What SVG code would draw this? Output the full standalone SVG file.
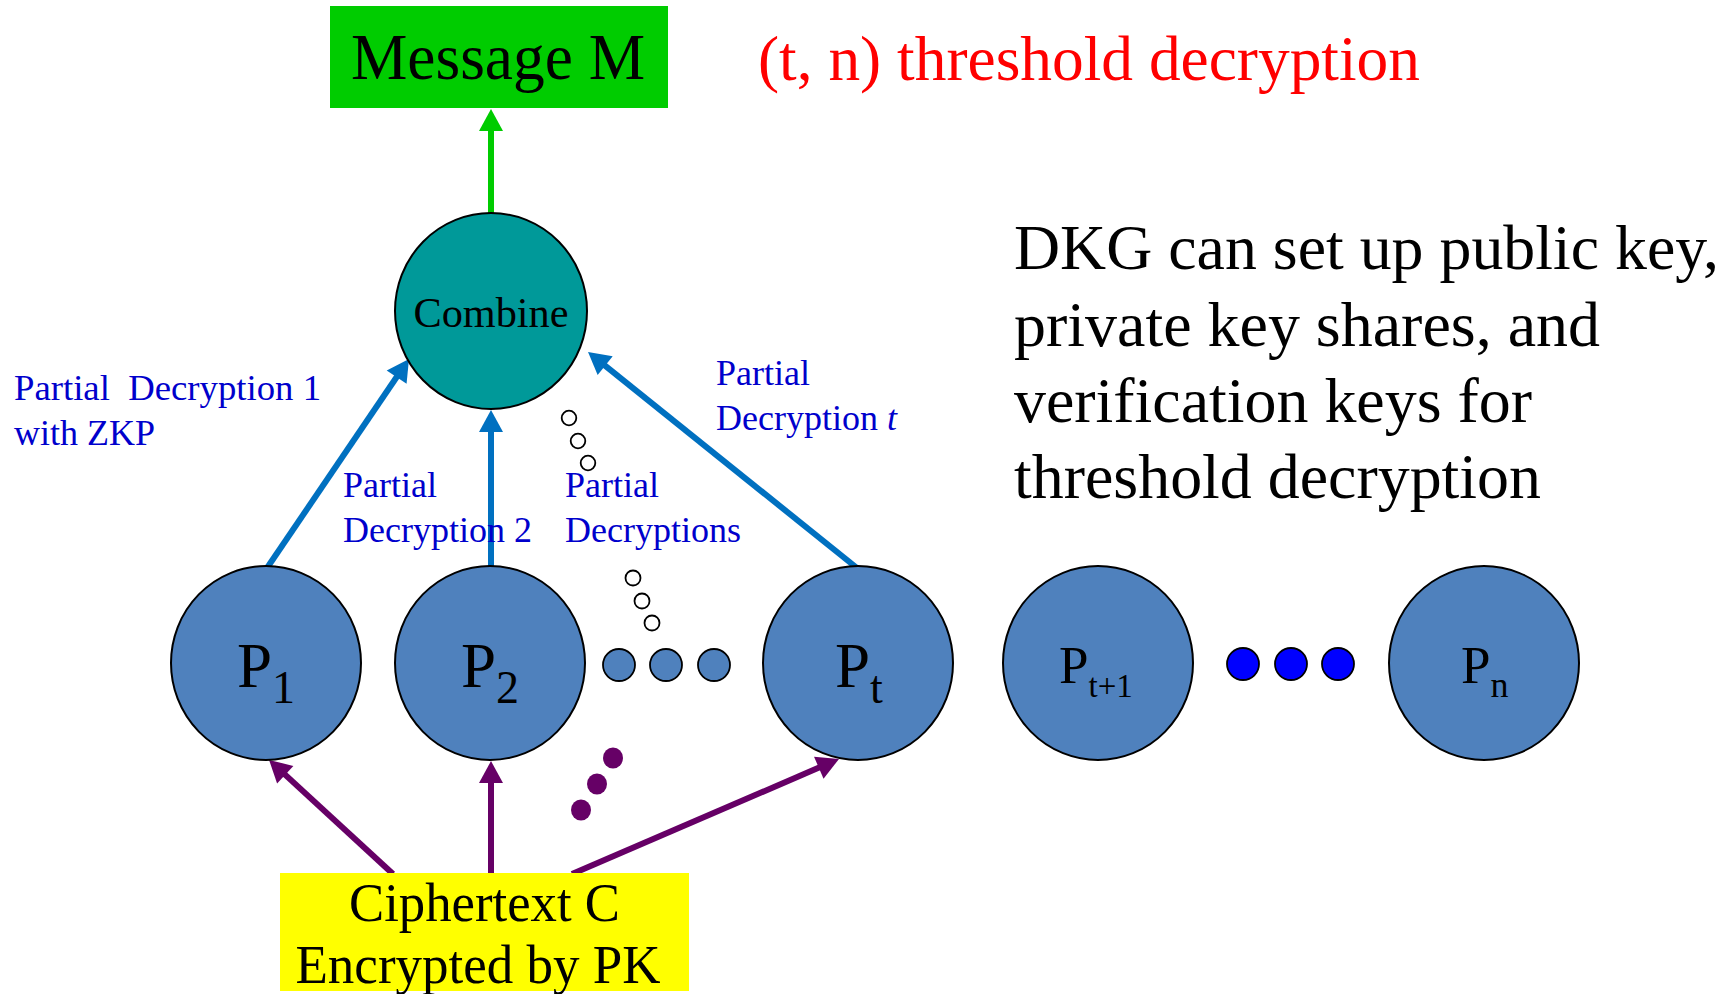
<svg xmlns="http://www.w3.org/2000/svg" width="1733" height="994" viewBox="0 0 1733 994">
<defs>
<style>
text{font-family:"Liberation Serif","Times New Roman",serif;}
.party{fill:#4F81BD;stroke:#000;stroke-width:2;}
.plabel{font-size:63px;fill:#000;}
.psmall{font-size:53px;fill:#000;}
.lbl{font-size:36px;fill:#0000CC;}
.blue{stroke:#0070C0;stroke-width:6;fill:none;}
.purple{stroke:#660066;stroke-width:6;fill:none;}
.green{stroke:#00CC00;stroke-width:6;fill:none;}
.bubble{fill:#fff;stroke:#000;stroke-width:1.8;}
.mini{fill:#4F81BD;stroke:#000;stroke-width:1.8;}
.bdot{fill:#0000FF;stroke:#000;stroke-width:1.8;}
.pdot{fill:#660066;}
.dkg{font-size:64px;fill:#000;}
</style>
<marker id="ahBlue" markerUnits="userSpaceOnUse" markerWidth="24" markerHeight="26" viewBox="0 -13 23 26" refX="1" refY="0" orient="auto"><path d="M0,-12 L22,0 L0,12 z" fill="#0070C0"/></marker>
<marker id="ahPurple" markerUnits="userSpaceOnUse" markerWidth="24" markerHeight="26" viewBox="0 -13 23 26" refX="1" refY="0" orient="auto"><path d="M0,-12 L22,0 L0,12 z" fill="#660066"/></marker>
<marker id="ahGreen" markerUnits="userSpaceOnUse" markerWidth="24" markerHeight="26" viewBox="0 -13 23 26" refX="1" refY="0" orient="auto"><path d="M0,-12 L22,0 L0,12 z" fill="#00CC00"/></marker>
</defs>
<rect width="1733" height="994" fill="#fff"/>

<g id="message">
<rect x="330" y="6" width="338" height="102" fill="#00CC00"/>
<text x="498" y="79" font-size="65" text-anchor="middle" textLength="294" lengthAdjust="spacingAndGlyphs">Message M</text>
</g>

<g id="title">
<text x="758" y="80" font-size="63" fill="#FF0000" textLength="662" lengthAdjust="spacingAndGlyphs">(t, n) threshold decryption</text>
</g>

<g id="dkg-note">
<text class="dkg" x="1014" y="269" textLength="705" lengthAdjust="spacingAndGlyphs">DKG can set up public key,</text>
<text class="dkg" x="1014" y="346" textLength="586" lengthAdjust="spacingAndGlyphs">private key shares, and</text>
<text class="dkg" x="1014" y="422" textLength="518" lengthAdjust="spacingAndGlyphs">verification keys for</text>
<text class="dkg" x="1014" y="498" textLength="527" lengthAdjust="spacingAndGlyphs">threshold decryption</text>
</g>

<g id="connectors">
<line class="green" x1="491" y1="214" x2="491" y2="130" marker-end="url(#ahGreen)"/>
<line class="blue" x1="267" y1="568" x2="397.2" y2="376.3" marker-end="url(#ahBlue)"/>
<line class="blue" x1="491" y1="566" x2="491" y2="431" marker-end="url(#ahBlue)"/>
<line class="blue" x1="857" y1="568" x2="604.4" y2="365.1" marker-end="url(#ahBlue)"/>
<line class="purple" x1="393" y1="874" x2="284.5" y2="774.1" marker-end="url(#ahPurple)"/>
<line class="purple" x1="491" y1="874" x2="491" y2="782" marker-end="url(#ahPurple)"/>
<line class="purple" x1="572" y1="874" x2="819.7" y2="767.3" marker-end="url(#ahPurple)"/>
</g>

<g id="combine">
<ellipse cx="491" cy="311" rx="96" ry="98" fill="#009999" stroke="#000" stroke-width="2"/>
<text x="491" y="327" font-size="42" text-anchor="middle" textLength="155" lengthAdjust="spacingAndGlyphs">Combine</text>
</g>

<g id="labels">
<text class="lbl" x="14" y="400" xml:space="preserve" textLength="307" lengthAdjust="spacingAndGlyphs">Partial  Decryption 1</text>
<text class="lbl" x="14" y="445">with ZKP</text>
<text class="lbl" x="343" y="497">Partial</text>
<text class="lbl" x="343" y="542">Decryption 2</text>
<text class="lbl" x="565" y="497">Partial</text>
<text class="lbl" x="565" y="542">Decryptions</text>
<text class="lbl" x="716" y="385">Partial</text>
<text class="lbl" x="716" y="430">Decryption <tspan font-style="italic">t</tspan></text>
</g>

<g id="bubbles-upper">
<circle class="bubble" cx="569" cy="418" r="7.3"/>
<circle class="bubble" cx="578" cy="441" r="7.3"/>
<circle class="bubble" cx="588" cy="463" r="7.3"/>
</g>
<g id="bubbles-lower">
<circle class="bubble" cx="633" cy="578" r="7.5"/>
<circle class="bubble" cx="642" cy="601" r="7.5"/>
<circle class="bubble" cx="652" cy="623" r="7.5"/>
</g>

<g id="p1">
<ellipse class="party" cx="266" cy="663" rx="95" ry="97"/>
<text class="plabel" x="237" y="687">P<tspan font-size="46" dy="16">1</tspan></text>
</g>
<g id="p2">
<ellipse class="party" cx="490" cy="663" rx="95" ry="97"/>
<text class="plabel" x="461" y="687">P<tspan font-size="46" dy="16">2</tspan></text>
</g>
<g id="mini-dots">
<circle class="mini" cx="619" cy="665" r="16"/>
<circle class="mini" cx="666" cy="665" r="16"/>
<circle class="mini" cx="714" cy="665" r="16"/>
</g>
<g id="pt">
<ellipse class="party" cx="858" cy="663" rx="95" ry="97"/>
<text class="plabel" x="835" y="687">P<tspan font-size="46" dy="16">t</tspan></text>
</g>
<g id="pt1">
<ellipse class="party" cx="1098" cy="663" rx="95" ry="97"/>
<text class="psmall" x="1059" y="683">P<tspan font-size="33" dy="14">t+1</tspan></text>
</g>
<g id="blue-dots">
<circle class="bdot" cx="1243" cy="664" r="16"/>
<circle class="bdot" cx="1291" cy="664" r="16"/>
<circle class="bdot" cx="1338" cy="664" r="16"/>
</g>
<g id="pn">
<ellipse class="party" cx="1484" cy="663" rx="95" ry="97"/>
<text class="psmall" x="1461" y="683">P<tspan font-size="36" dy="14">n</tspan></text>
</g>

<g id="purple-dots">
<ellipse class="pdot" cx="613" cy="758" rx="10" ry="10.5"/>
<ellipse class="pdot" cx="597" cy="784" rx="10" ry="10.5"/>
<ellipse class="pdot" cx="581" cy="810" rx="10" ry="10.5"/>
</g>

<g id="ciphertext">
<rect x="280" y="873" width="409" height="118" fill="#FFFF00"/>
<text x="484.5" y="920.5" font-size="54" text-anchor="middle" textLength="271" lengthAdjust="spacingAndGlyphs">Ciphertext C</text>
<text x="478" y="983" font-size="54" text-anchor="middle" textLength="365" lengthAdjust="spacingAndGlyphs">Encrypted by PK</text>
</g>
</svg>
